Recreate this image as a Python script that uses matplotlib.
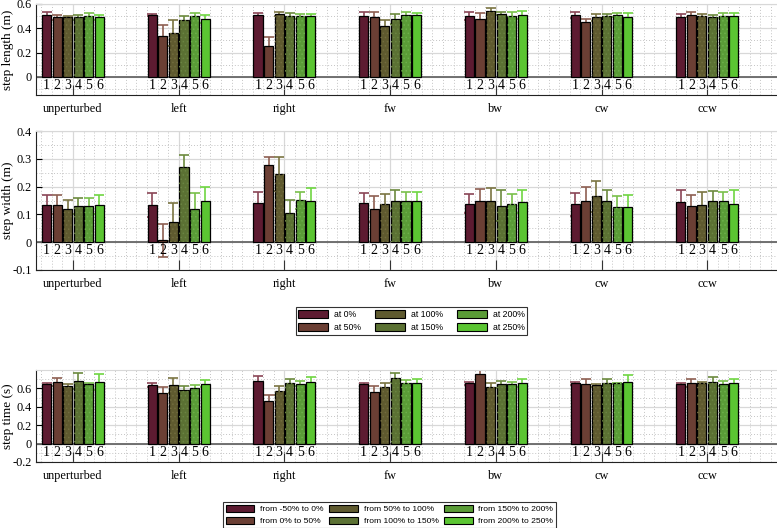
import matplotlib
matplotlib.use("Agg")
import matplotlib.pyplot as plt
from matplotlib.ticker import MultipleLocator, FixedLocator
from matplotlib.patches import Patch
import numpy as np

groups = ["unperturbed", "left", "right", "fw", "bw", "cw", "ccw"]
bar_ids = ["1", "2", "3", "4", "5", "6"]

length_mean = [
    [0.51, 0.49, 0.495, 0.49, 0.50, 0.49],
    [0.507, 0.337, 0.36, 0.47, 0.505, 0.477],
    [0.507, 0.25, 0.515, 0.505, 0.50, 0.50],
    [0.505, 0.49, 0.415, 0.475, 0.51, 0.51],
    [0.50, 0.48, 0.54, 0.52, 0.50, 0.51],
    [0.51, 0.455, 0.49, 0.50, 0.51, 0.49],
    [0.495, 0.51, 0.505, 0.49, 0.505, 0.50],
]
length_err = [
    [0.02, 0.02, 0.01, 0.02, 0.025, 0.02],
    [0.01, 0.09, 0.11, 0.03, 0.02, 0.035],
    [0.02, 0.08, 0.015, 0.02, 0.02, 0.02],
    [0.03, 0.04, 0.05, 0.04, 0.02, 0.015],
    [0.035, 0.045, 0.03, 0.01, 0.03, 0.035],
    [0.025, 0.02, 0.03, 0.02, 0.015, 0.035],
    [0.02, 0.02, 0.015, 0.02, 0.02, 0.025],
]
width_mean = [
    [0.135, 0.135, 0.12, 0.13, 0.131, 0.135],
    [0.135, 0.007, 0.073, 0.269, 0.12, 0.147],
    [0.142, 0.277, 0.245, 0.105, 0.151, 0.148],
    [0.141, 0.119, 0.136, 0.15, 0.147, 0.15],
    [0.139, 0.147, 0.15, 0.131, 0.137, 0.145],
    [0.136, 0.147, 0.165, 0.147, 0.128, 0.126],
    [0.145, 0.129, 0.133, 0.147, 0.15, 0.137],
]
width_err = [
    [0.033, 0.035, 0.033, 0.03, 0.027, 0.033],
    [0.043, 0.06, 0.068, 0.045, 0.057, 0.051],
    [0.04, 0.028, 0.06, 0.046, 0.031, 0.047],
    [0.037, 0.046, 0.037, 0.038, 0.033, 0.032],
    [0.035, 0.046, 0.046, 0.055, 0.038, 0.041],
    [0.04, 0.051, 0.055, 0.04, 0.039, 0.042],
    [0.042, 0.041, 0.048, 0.036, 0.03, 0.049],
]
time_mean = [
    [0.644, 0.67, 0.626, 0.68, 0.644, 0.673],
    [0.637, 0.552, 0.633, 0.578, 0.607, 0.651],
    [0.681, 0.46, 0.574, 0.662, 0.651, 0.673],
    [0.651, 0.56, 0.618, 0.718, 0.662, 0.662],
    [0.655, 0.754, 0.618, 0.644, 0.651, 0.662],
    [0.655, 0.651, 0.633, 0.662, 0.655, 0.673],
    [0.644, 0.662, 0.655, 0.673, 0.651, 0.662],
]
time_err = [
    [0.018, 0.04, 0.018, 0.09, 0.01, 0.088],
    [0.018, 0.063, 0.085, 0.05, 0.03, 0.04],
    [0.055, 0.063, 0.05, 0.044, 0.03, 0.052],
    [0.01, 0.066, 0.044, 0.044, 0.03, 0.037],
    [0.018, 0.048, 0.037, 0.037, 0.022, 0.044],
    [0.015, 0.055, 0.018, 0.037, 0.007, 0.077],
    [0.018, 0.044, 0.018, 0.055, 0.03, 0.044],
]

legend1_labels = ["at 0%", "at 50%", "at 100%", "at 150%", "at 200%", "at 250%"]
legend2_labels = ["from -50% to 0%", "from 0% to 50%", "from 50% to 100%",
                  "from 100% to 150%", "from 150% to 200%", "from 200% to 250%"]

bar_colors = ["#5d1b31", "#6b3f34", "#5f5a2f", "#5b7133", "#5a9c37", "#5bc532"]
err_colors = ["#8a4556", "#8d5f52", "#7a7442", "#6c8a3e", "#79c04a", "#6fd642"]
hatch_colors = [None, None, "#716c3e", "#6a8442", "#6cb04a", None]

plt.rcParams["hatch.linewidth"] = 0.6

W, H = 777, 528
fig = plt.figure(figsize=(W / 100, H / 100), dpi=100)

serif = ["Liberation Serif", "DejaVu Serif"]
sans = ["Liberation Sans", "DejaVu Sans"]

def px_axes(left, right, top, bottom):
    return fig.add_axes([left / W, 1 - bottom / H, (right - left) / W, (bottom - top) / H])

panels = [
    (px_axes(36, 777, 4, 95), length_mean, length_err, (-0.15, 0.6), [0, 0.2, 0.4, 0.6], 0.1, "step length (m)"),
    (px_axes(36, 777, 131, 270), width_mean, width_err, (-0.1, 0.4), [-0.1, 0, 0.1, 0.2, 0.3, 0.4], 0.05, "step width (m)"),
    (px_axes(36, 777, 370, 462), time_mean, time_err, (-0.2, 0.8), [-0.2, 0, 0.2, 0.4, 0.6], 0.1, "step time (s)"),
]

bw = 0.086
for ax, mean, err, ylim, yt, yminor, ylab in panels:
    ax.set_xlim(0.65, 7.66)
    ax.set_ylim(*ylim)
    for gi, g in enumerate(groups):
        for bi in range(6):
            x = gi + 1 + (bi - 2.5) * 0.1
            ax.errorbar(x, mean[gi][bi], yerr=err[gi][bi], color=err_colors[bi],
                        capsize=3.6, capthick=1.2, elinewidth=1.2, zorder=2)
            ax.bar(x, mean[gi][bi], width=bw, color=bar_colors[bi],
                   edgecolor="black", linewidth=0.9, zorder=3)
            if hatch_colors[bi]:
                ax.bar(x, mean[gi][bi], width=bw, facecolor="none",
                       edgecolor=hatch_colors[bi], hatch="....", linewidth=0, zorder=3.1)
            ax.annotate(bar_ids[bi], xy=(x, 0), xytext=(0, -1.5), textcoords="offset points",
                        ha="center", va="top", fontsize=10, family=serif, zorder=4)
    ax.axhline(0, color="#666666", lw=1.3, zorder=2.5)
    ax.xaxis.set_major_locator(FixedLocator(np.arange(1, 8)))
    ax.set_xticklabels(groups, family=serif, fontsize=8.8)
    ax.xaxis.set_minor_locator(MultipleLocator(0.1))
    ax.set_yticks(yt)
    ax.set_yticklabels([("%g" % v) for v in yt], family=serif, fontsize=8.8)
    ax.yaxis.set_minor_locator(MultipleLocator(yminor))
    ax.tick_params(axis="x", which="major", direction="in", length=7, width=0.8,
                   color="#333333", pad=6)
    ax.tick_params(axis="x", which="minor", length=0)
    ax.tick_params(axis="y", which="major", direction="in", length=4, width=0.8, pad=3)
    ax.tick_params(axis="y", which="minor", length=0)
    ax.grid(True, which="major", color="#d8d8d8", lw=0.9, ls="-", zorder=0)
    ax.grid(True, which="minor", color="#c4c4c4", lw=0.7, ls=(0, (1, 2)), zorder=0)
    ax.set_axisbelow(True)
    ax.spines["right"].set_visible(False)
    ax.spines["top"].set_color("#d8d8d8")
    ax.spines["left"].set_color("#222222")
    ax.spines["bottom"].set_color("#222222")
    ax.set_ylabel(ylab, family=serif, fontsize=9.5, va="center")
    ax.yaxis.set_label_coords(-28 / 741, 0.5)

handles = []
for c, hc in zip(bar_colors, hatch_colors):
    handles.append(Patch(facecolor=c, edgecolor="black", linewidth=0.8))

leg_kw = dict(ncol=3, loc="center", fancybox=False, frameon=True, edgecolor="black",
              handlelength=3.4, handleheight=0.9, handletextpad=0.7,
              labelspacing=0.45, borderpad=0.3, borderaxespad=0)
l1 = fig.legend(handles, legend1_labels, bbox_to_anchor=(411.5 / W, 1 - 321 / H),
                prop={"family": sans, "size": 6.3}, columnspacing=1.6, **leg_kw)
l1.get_frame().set_linewidth(0.8)
l2 = fig.legend(handles, legend2_labels, bbox_to_anchor=(389.5 / W, 1 - 515 / H),
                prop={"family": sans, "size": 6.1}, columnspacing=0.6, **leg_kw)
l2.get_frame().set_linewidth(0.8)

fig.savefig("out.png", dpi=100)
